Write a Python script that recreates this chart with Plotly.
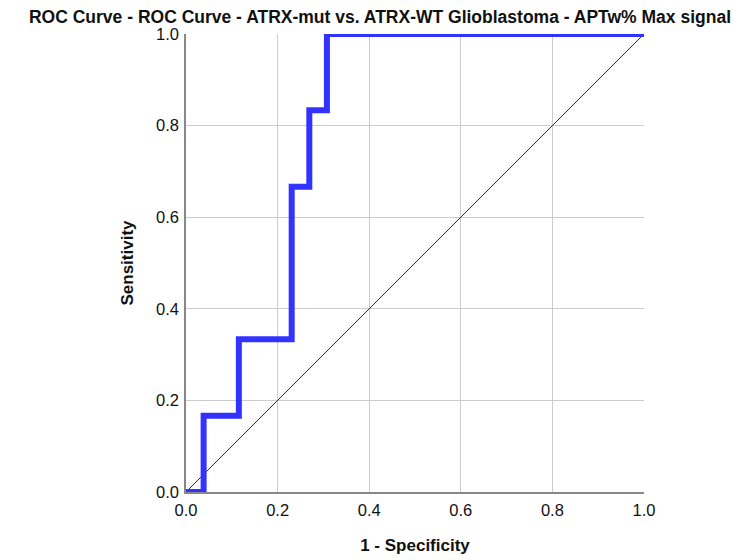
import plotly.graph_objects as go

fpr = [0, 1/26, 1/26, 3/26, 3/26, 6/26, 6/26, 7/26, 7/26, 8/26, 8/26, 1.0]
tpr = [0, 0, 1/6, 1/6, 2/6, 2/6, 4/6, 4/6, 5/6, 5/6, 1.0, 1.0]
ref_x = [0, 1]
ref_y = [0, 1]
ticks = [0, 0.2, 0.4, 0.6, 0.8, 1.0]
tick_labels = ["0.0", "0.2", "0.4", "0.6", "0.8", "1.0"]

fig = go.Figure()
fig.add_trace(go.Scatter(x=ref_x, y=ref_y, mode="lines",
                         line=dict(color="#333333", width=1), showlegend=False))
fig.add_trace(go.Scatter(x=fpr, y=tpr, mode="lines",
                         line=dict(color="#3333ff", width=6), showlegend=False,
                         cliponaxis=False))

font = "Liberation Sans, Arial, sans-serif"
W, H = 744, 552
fig.update_layout(
    width=W, height=H,
    margin=dict(l=178, r=108, t=26, b=68, autoexpand=False),
    paper_bgcolor="white", plot_bgcolor="white",
    title=dict(text="<b>ROC Curve - ROC Curve - ATRX-mut vs. ATRX-WT Glioblastoma - APTw% Max signal</b>",
               x=0.5, xanchor="center", xref="container", y=1 - 8.5/H, yanchor="middle",
               yref="container",
               font=dict(family=font, size=17.5, color="#111111")),
    xaxis=dict(range=[0, 1], tickvals=ticks, ticktext=tick_labels,
               showgrid=True, gridcolor="#cccccc", gridwidth=1,
               showline=True, linecolor="#888888", linewidth=1.5,
               zeroline=False, ticks="outside", ticklen=2, tickcolor="white",
               automargin=False,
               tickfont=dict(family=font, size=16.5, color="#111111"),
               title=dict(text="<b>1 - Specificity</b>", standoff=22,
                          font=dict(family=font, size=17, color="#111111"))),
    yaxis=dict(range=[0, 1], tickvals=ticks, ticktext=tick_labels,
               showgrid=True, gridcolor="#cccccc", gridwidth=1,
               showline=True, linecolor="#888888", linewidth=1.5,
               zeroline=False, ticks="outside", ticklen=2, tickcolor="white",
               automargin=False,
               tickfont=dict(family=font, size=16.5, color="#111111"),
               title=dict(text="<b>Sensitivity</b>", standoff=18,
                          font=dict(family=font, size=17, color="#111111"))),
)
fig.update_xaxes(tickprefix="<b>", ticksuffix="</b>")
fig.update_yaxes(tickprefix="<b>", ticksuffix="</b>")
fig.write_html("out.html")
